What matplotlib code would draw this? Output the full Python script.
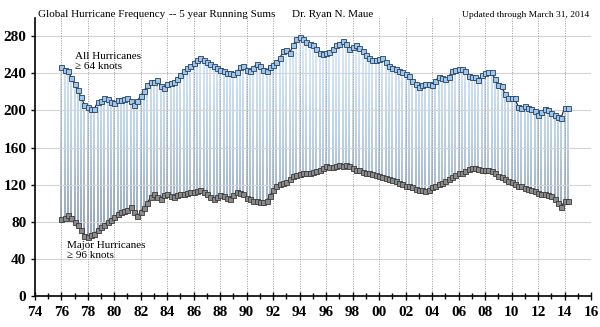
import numpy as np
import matplotlib
matplotlib.use("Agg")
import matplotlib.pyplot as plt
from matplotlib.collections import LineCollection
from matplotlib.colors import LinearSegmentedColormap
from matplotlib.ticker import MultipleLocator, FuncFormatter

plt.rcParams['font.family'] = ['Liberation Serif', 'DejaVu Serif']

# 5-year running sums, sampled quarterly from Jan 1976 to Mar 2014
start_year = 1976.0
step = 0.25

all_hurricanes = [
    247, 244, 243, 235, 228, 222, 214, 206, 204, 201, 202, 209,   # 76-78
    210, 213, 212, 209, 208, 211, 211, 212, 213, 210, 206, 210,   # 79-81
    216, 221, 227, 231, 231, 233, 226, 224, 228, 230, 231, 234,   # 82-84
    238, 242, 246, 248, 251, 254, 256, 254, 252, 250, 248, 246,   # 85-87
    244, 242, 240, 240, 239, 241, 247, 248, 244, 242, 246, 250,   # 88-90
    248, 244, 243, 247, 249, 252, 256, 264, 265, 262, 270, 277,   # 91-93
    279, 277, 274, 272, 270, 266, 262, 261, 262, 263, 266, 270,   # 94-96
    272, 275, 272, 266, 268, 270, 267, 264, 260, 256, 254, 254,   # 97-99
    255, 256, 252, 248, 246, 245, 243, 241, 239, 237, 232, 228,   # 00-02
    225, 227, 229, 228, 227, 232, 236, 235, 234, 236, 242, 244,   # 03-05
    245, 245, 243, 237, 236, 236, 233, 238, 240, 241, 241, 234,   # 06-08
    227, 226, 218, 213, 213, 213, 204, 203, 205, 203, 202, 199,   # 09-11
    195, 198, 202, 200, 197, 195, 193, 192, 203, 203,             # 12-14
]

major_hurricanes = [
    83, 84, 87, 84, 80, 76, 71, 65, 64, 66, 67, 71,               # 76-78
    74, 77, 80, 82, 85, 88, 90, 92, 93, 96, 90, 86,               # 79-81
    91, 95, 100, 107, 110, 107, 105, 109, 110, 108, 107, 109,     # 82-84
    110, 110, 111, 112, 112, 113, 114, 112, 110, 107, 105, 107,   # 85-87
    109, 108, 106, 105, 109, 112, 111, 110, 106, 104, 102, 102,   # 88-90
    101, 101, 102, 108, 114, 119, 121, 122, 123, 126, 129, 130,   # 91-93
    131, 132, 132, 133, 134, 135, 136, 138, 140, 139, 139, 140,   # 94-96
    141, 140, 141, 140, 138, 136, 136, 134, 133, 132, 131, 130,   # 97-99
    129, 128, 127, 126, 125, 124, 122, 121, 119, 118, 117, 115,   # 00-02
    114, 114, 113, 114, 117, 119, 121, 122, 124, 126, 128, 130,   # 03-05
    132, 133, 135, 137, 138, 138, 137, 136, 136, 136, 135, 132,   # 06-08
    129, 128, 126, 124, 123, 121, 119, 118, 116, 115, 114, 113,   # 09-11
    111, 110, 110, 109, 108, 104, 100, 96, 102, 102,              # 12-14
]

years = start_year + step * np.arange(len(all_hurricanes))
top = np.array(all_hurricanes, dtype=float)
low = np.array(major_hurricanes, dtype=float)

fig = plt.figure(figsize=(6.0, 3.27), dpi=100)
ax = fig.add_axes([0.058, 0.095, 0.927, 0.851])

# high-low drop lines, shaded from grey-blue at the bottom to pale blue at the top
cmap = LinearSegmentedColormap.from_list("drop", ["#8797ae", "#b4cbe3", "#d8eafb"])
nseg = 24
segs, vals = [], []
for x, hi, lo in zip(years, top, low):
    ys = np.linspace(lo, hi, nseg + 1)
    for a, b in zip(ys[:-1], ys[1:]):
        segs.append([(x, a), (x, b)])
        vals.append((a + b) / 2)
vals = np.array(vals)
lc = LineCollection(segs, colors=cmap((vals - 60) / 220), linewidths=1.3, zorder=1)
ax.add_collection(lc)

# grid: solid horizontals, dotted verticals at every other year
for yv in range(40, 281, 40):
    ax.axhline(yv, color="#d4d4d4", lw=0.8, zorder=1.5)
for xv in range(1976, 2017, 2):
    ax.axvline(xv, color="#9a9a9a", lw=0.7, ls=(0, (1, 1.5)), zorder=1.5)

ax.plot(years, top, color="#1a1a1a", lw=0.8, marker="s", ms=3.6,
        mfc="#9fc6ea", mec="#24405e", mew=0.6, zorder=3)
ax.plot(years, low, color="#1a1a1a", lw=0.8, marker="s", ms=3.6,
        mfc="#8a8a8a", mec="#3a3a3a", mew=0.6, zorder=3)

ax.set_xlim(1974, 2016)
ax.set_ylim(0, 300)
ax.xaxis.set_major_locator(MultipleLocator(2))
ax.xaxis.set_minor_locator(MultipleLocator(1))
ax.xaxis.set_major_formatter(FuncFormatter(lambda v, p: f"{int(round(v)) % 100:02d}"))
ax.set_yticks(range(0, 281, 40))
ax.tick_params(axis="x", which="major", direction="inout", length=6, width=1.0,
               labelsize=11, pad=4)
ax.tick_params(axis="x", which="minor", direction="inout", length=5, width=1.0)
ax.tick_params(axis="y", direction="out", length=3, width=1.0, labelsize=11, pad=3)
for lab in ax.get_xticklabels() + ax.get_yticklabels():
    lab.set_fontweight("bold")
for side in ("top", "right"):
    ax.spines[side].set_visible(False)
for side in ("left", "bottom"):
    ax.spines[side].set_linewidth(1.2)
    ax.spines[side].set_color("black")

fig.text(0.063, 0.943, "Global Hurricane Frequency", fontsize=8.0,
         ha="left", va="bottom")
fig.text(0.281, 0.943, "-- 5 year Running Sums", fontsize=8.0,
         ha="left", va="bottom")
fig.text(0.487, 0.943, "Dr. Ryan N. Maue", fontsize=8.0, ha="left", va="bottom")
fig.text(0.982, 0.943, "Updated through March 31, 2014", fontsize=6.8,
         ha="right", va="bottom")

ax.text(1977.0, 242, "All Hurricanes\n≥ 64 knots", fontsize=8, ha="left",
        va="bottom", linespacing=1.15)
ax.text(1976.4, 39, "Major Hurricanes\n≥ 96 knots", fontsize=8, ha="left",
        va="bottom", linespacing=1.15)

fig.savefig("out.png", dpi=100)
